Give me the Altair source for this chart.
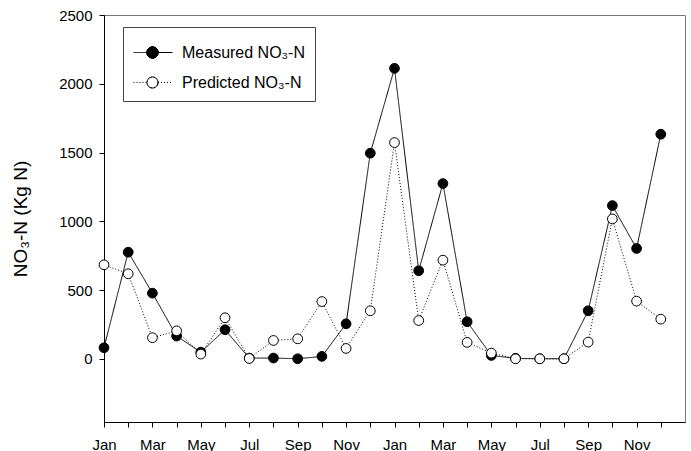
import json
import math
import altair as alt
import pandas as pd

# ---- data ----
months = ["Jan", "Feb", "Mar", "Apr", "May", "Jun",
          "Jul", "Aug", "Sep", "Oct", "Nov", "Dec"]
month_index = list(range(24))  # Jan (year 1) .. Dec (year 2)
measured = [80, 775, 477, 165, 48, 211, 5, 5, 0, 17, 254, 1495,
            2112, 640, 1274, 269, 24, 3, 0, 0, 349, 1114, 802, 1633]
predicted = [683, 618, 153, 203, 34, 298, 2, 133, 145, 416, 75, 349,
             1572, 278, 717, 119, 41, 0, 0, 0, 121, 1017, 419, 288]
series_names = ["Measured NO\u2083-N", "Predicted NO\u2083-N"]
y_ticks = [0, 500, 1000, 1500, 2000, 2500]

rows = []
for name, vals in zip(series_names, [measured, predicted]):
    for m, v in zip(month_index, vals):
        rows.append({"month": m, "value": v, "series": name})
df = pd.DataFrame(rows)

FONT = "Liberation Sans"

# legend symbol: line + circle (unit coords scaled by sqrt(size)/2);
# the circle is traced several times from shifted start points so that a
# dotted stroke still looks like a full ring.
CX, R = 1.375, 0.69
rings = []
for k in range(4):
    a = k * 0.18
    sx, sy = CX + R * math.cos(a), R * math.sin(a)
    ox, oy = CX - R * math.cos(a), -R * math.sin(a)
    rings.append(f"M {sx:.3f} {sy:.3f} A {R} {R} 0 1 1 {ox:.3f} {oy:.3f} "
                 f"A {R} {R} 0 1 1 {sx:.3f} {sy:.3f} Z ")
sym = ("M -1 0 L 0.685 0 M 2.065 0 L 3.875 0 " + "".join(rings)).strip()

label_expr = ("datum.value % 2 == 0 ? " + json.dumps(months) +
              "[datum.value % 12] : ''")

x_enc = alt.X("month:Q",
              scale=alt.Scale(domain=[0, 24], nice=False, zero=False),
              axis=alt.Axis(values=month_index, labelExpr=label_expr,
                            title=None, grid=False, tickSize=5,
                            labelPadding=10, labelFontSize=15,
                            labelFont=FONT, labelColor="black",
                            domainColor="black", tickColor="black",
                            labelFlush=False, labelOverlap=False))
y_enc = alt.Y("value:Q",
              scale=alt.Scale(domain=[-460, 2500], nice=False, zero=False),
              axis=alt.Axis(values=y_ticks, format="d",
                            title="NO\u2083-N (Kg N)",
                            grid=False, tickSize=5, labelPadding=7,
                            labelFontSize=15, labelFont=FONT,
                            labelColor="black", titleFont=FONT,
                            titleFontSize=19, titleFontWeight="normal",
                            titleColor="black", titleX=-84,
                            titleBaseline="middle",
                            domainColor="black", tickColor="black"))

legend = alt.Legend(orient="none", legendX=19, legendY=12, title=" ",
                    titleFontSize=4, titlePadding=3, padding=10,
                    rowPadding=13, labelOffset=32, symbolSize=256,
                    symbolType=sym,
                    strokeColor="#444", fillColor="white",
                    labelFont=FONT, labelFontSize=16, labelColor="black",
                    symbolStrokeColor="black", symbolStrokeWidth=1,
                    symbolOpacity=1)

base = alt.Chart(df)

lines = base.mark_line(color="black", strokeWidth=1).encode(
    x=x_enc, y=y_enc,
    strokeDash=alt.StrokeDash("series:N",
                              scale=alt.Scale(domain=series_names,
                                              range=[[1, 0], [1, 2]]),
                              legend=legend),
)

points = base.mark_point(shape="circle", filled=True, stroke="black",
                         strokeWidth=1, size=95, opacity=1).encode(
    x=x_enc, y=y_enc,
    fill=alt.Fill("series:N",
                  scale=alt.Scale(domain=series_names,
                                  range=["black", "white"]),
                  legend=legend),
)

chart = alt.layer(lines, points).properties(
    width=581, height=407,
    autosize=alt.AutoSizeParams(type="none"),
    padding={"left": 104, "top": 15, "right": 6, "bottom": 29},
    background="white",
).configure_view(stroke="#777", strokeWidth=1)

chart.save("out.html", embed_options={"renderer": "svg", "actions": False})
